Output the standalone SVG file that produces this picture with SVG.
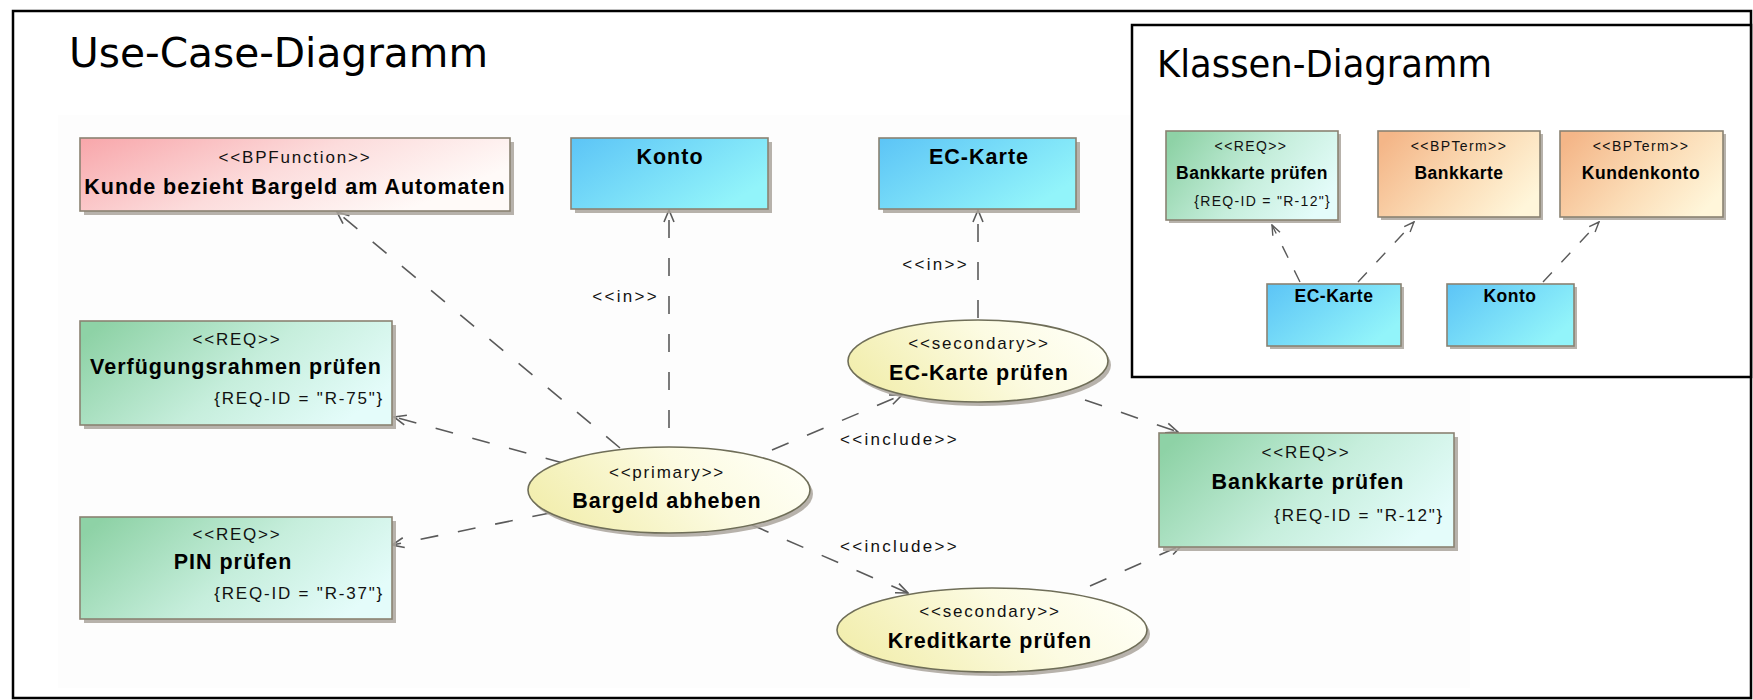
<svg xmlns="http://www.w3.org/2000/svg" width="1753" height="700" viewBox="0 0 1753 700">
  <style>
    .frame { fill: #ffffff; stroke: #000000; stroke-width: 2.5; }
    .title { font-family: "DejaVu Sans", "Verdana", sans-serif; fill: #000000; }
    .box { stroke: #8a8272; stroke-width: 1.6; }
    .oval { stroke: #6f6e58; stroke-width: 1.6; }
    .shadow { fill: #aaa49c; opacity: 0.85; }
    .st { font-family: "Liberation Sans", Arial, sans-serif; font-size: 17px; letter-spacing: 1.8px; fill: #111111; text-anchor: middle; }
    .nm { font-family: "Liberation Sans", Arial, sans-serif; font-size: 21.5px; font-weight: bold; letter-spacing: 1px; fill: #000000; text-anchor: middle; }
    .id { font-family: "Liberation Sans", Arial, sans-serif; font-size: 17px; letter-spacing: 1.8px; fill: #111111; text-anchor: end; }
    .lbl { font-family: "Liberation Sans", Arial, sans-serif; font-size: 17px; letter-spacing: 2.3px; fill: #111111; }
    .kst { font-family: "Liberation Sans", Arial, sans-serif; font-size: 14px; letter-spacing: 1.4px; fill: #111111; text-anchor: middle; }
    .knm { font-family: "Liberation Sans", Arial, sans-serif; font-size: 17.5px; font-weight: bold; letter-spacing: 0.5px; fill: #000000; text-anchor: middle; }
    .kid { font-family: "Liberation Sans", Arial, sans-serif; font-size: 14px; letter-spacing: 1.3px; fill: #111111; text-anchor: end; }
    .dep { fill: none; stroke: #5a5a5a; stroke-width: 1.6; stroke-dasharray: 18 20; marker-end: url(#open); }
    .kdep { fill: none; stroke: #5a5a5a; stroke-width: 1.4; stroke-dasharray: 13 14; marker-end: url(#openSmall); }
  </style>
  <defs>
    <linearGradient id="gPink" x1="0" y1="0" x2="1" y2="0.4">
      <stop offset="0" stop-color="#f8a6aa"/>
      <stop offset="0.55" stop-color="#fcdcdc"/>
      <stop offset="1" stop-color="#fffaf8"/>
    </linearGradient>
    <linearGradient id="gBlue" x1="0" y1="0" x2="1" y2="0.6">
      <stop offset="0" stop-color="#5cc4f6"/>
      <stop offset="1" stop-color="#92f4fa"/>
    </linearGradient>
    <linearGradient id="gGreen" x1="0" y1="0.2" x2="1" y2="0.6">
      <stop offset="0" stop-color="#8ed2a6"/>
      <stop offset="0.55" stop-color="#c6eedc"/>
      <stop offset="1" stop-color="#e4fcfa"/>
    </linearGradient>
    <linearGradient id="gOrange" x1="0" y1="0.2" x2="1" y2="0.7">
      <stop offset="0" stop-color="#f4b688"/>
      <stop offset="0.55" stop-color="#fbdcb6"/>
      <stop offset="1" stop-color="#fff6da"/>
    </linearGradient>
    <linearGradient id="gOval" x1="0" y1="0.6" x2="1" y2="0.3">
      <stop offset="0" stop-color="#f2eeae"/>
      <stop offset="0.6" stop-color="#fcfbe2"/>
      <stop offset="1" stop-color="#fffff6"/>
    </linearGradient>
    <marker id="open" viewBox="0 0 14 12" refX="13" refY="6" markerWidth="14" markerHeight="12" markerUnits="userSpaceOnUse" orient="auto">
      <path d="M1,1 L13,6 L1,11" fill="none" stroke="#5a5a5a" stroke-width="1.6"/>
    </marker>
    <marker id="openSmall" viewBox="0 0 12 10" refX="11" refY="5" markerWidth="12" markerHeight="10" markerUnits="userSpaceOnUse" orient="auto">
      <path d="M1,1 L11,5 L1,9" fill="none" stroke="#5a5a5a" stroke-width="1.4"/>
    </marker>
  </defs>

  <rect x="0" y="0" width="1753" height="700" fill="#ffffff"/>

  <!-- use case frame -->
  <g id="frame-usecase">
    <rect class="frame" x="13" y="11" width="1738" height="687"/>
    <rect x="58" y="115" width="1412" height="573" fill="#fdfdfd"/>
    <text class="title" x="69" y="67" font-size="40" textLength="419" lengthAdjust="spacingAndGlyphs">Use-Case-Diagramm</text>
  </g>

  <!-- class diagram frame -->
  <g id="frame-klassen">
    <rect class="frame" x="1132" y="25" width="619" height="352"/>
    <text class="title" x="1157" y="77" font-size="37" textLength="335" lengthAdjust="spacingAndGlyphs">Klassen-Diagramm</text>
  </g>

  <!-- connectors -->
  <g id="connectors">
    <path class="dep" d="M620,448 L337,212"/>
    <path class="dep" d="M669,428 L669,210"/>
    <path class="dep" d="M563,463 L394,417"/>
    <path class="dep" d="M550,513 L392,545"/>
    <path class="dep" d="M772,450 L902,395"/>
    <path class="dep" d="M752,525 L908,593"/>
    <path class="dep" d="M978,318 L978,210"/>
    <path class="dep" d="M1085,400 L1178,432"/>
    <path class="dep" d="M1090,586 L1182,545"/>
    <text class="lbl" x="659" y="302" text-anchor="end">&lt;&lt;in&gt;&gt;</text>
    <text class="lbl" x="969" y="270" text-anchor="end">&lt;&lt;in&gt;&gt;</text>
    <text class="lbl" x="840" y="445">&lt;&lt;include&gt;&gt;</text>
    <text class="lbl" x="840" y="552">&lt;&lt;include&gt;&gt;</text>
    <path class="kdep" d="M1300,282 L1272,225"/>
    <path class="kdep" d="M1358,282 L1414,222"/>
    <path class="kdep" d="M1543,282 L1599,222"/>
  </g>

  <!-- use case nodes -->
  <g id="uc-bpfunction">
    <rect class="shadow" x="84" y="142" width="430" height="73"/>
    <rect class="box" x="80" y="138" width="430" height="73" fill="url(#gPink)"/>
    <text class="st" x="295" y="163">&lt;&lt;BPFunction&gt;&gt;</text>
    <text class="nm" x="295" y="194">Kunde bezieht Bargeld am Automaten</text>
  </g>
  <g id="uc-konto">
    <rect class="shadow" x="575" y="142" width="197" height="71"/>
    <rect class="box" x="571" y="138" width="197" height="71" fill="url(#gBlue)"/>
    <text class="nm" x="670" y="164">Konto</text>
  </g>
  <g id="uc-eckarte">
    <rect class="shadow" x="883" y="142" width="197" height="71"/>
    <rect class="box" x="879" y="138" width="197" height="71" fill="url(#gBlue)"/>
    <text class="nm" x="979" y="164">EC-Karte</text>
  </g>
  <g id="uc-verfuegungsrahmen">
    <rect class="shadow" x="84" y="325" width="312" height="104"/>
    <rect class="box" x="80" y="321" width="312" height="104" fill="url(#gGreen)"/>
    <text class="st" x="237" y="345">&lt;&lt;REQ&gt;&gt;</text>
    <text class="nm" x="236" y="374">Verfügungsrahmen prüfen</text>
    <text class="id" x="384" y="404">{REQ-ID = "R-75"}</text>
  </g>
  <g id="uc-pin">
    <rect class="shadow" x="84" y="521" width="312" height="102"/>
    <rect class="box" x="80" y="517" width="312" height="102" fill="url(#gGreen)"/>
    <text class="st" x="237" y="540">&lt;&lt;REQ&gt;&gt;</text>
    <text class="nm" x="233" y="569">PIN prüfen</text>
    <text class="id" x="384" y="599">{REQ-ID = "R-37"}</text>
  </g>
  <g id="uc-bankkarte-pruefen">
    <rect class="shadow" x="1163" y="437" width="295" height="114"/>
    <rect class="box" x="1159" y="433" width="295" height="114" fill="url(#gGreen)"/>
    <text class="st" x="1306" y="458">&lt;&lt;REQ&gt;&gt;</text>
    <text class="nm" x="1308" y="489">Bankkarte prüfen</text>
    <text class="id" x="1444" y="521">{REQ-ID = "R-12"}</text>
  </g>
  <g id="uc-bargeld-abheben">
    <ellipse class="shadow" cx="672" cy="494" rx="141" ry="43"/>
    <ellipse class="oval" cx="669" cy="490" rx="141" ry="43" fill="url(#gOval)"/>
    <text class="st" x="667" y="478">&lt;&lt;primary&gt;&gt;</text>
    <text class="nm" x="667" y="508">Bargeld abheben</text>
  </g>
  <g id="uc-eckarte-pruefen">
    <ellipse class="shadow" cx="981" cy="365" rx="130" ry="41"/>
    <ellipse class="oval" cx="978" cy="361" rx="130" ry="41" fill="url(#gOval)"/>
    <text class="st" x="979" y="349">&lt;&lt;secondary&gt;&gt;</text>
    <text class="nm" x="979" y="380">EC-Karte prüfen</text>
  </g>
  <g id="uc-kreditkarte-pruefen">
    <ellipse class="shadow" cx="995" cy="634" rx="155" ry="42"/>
    <ellipse class="oval" cx="992" cy="630" rx="155" ry="42" fill="url(#gOval)"/>
    <text class="st" x="990" y="617">&lt;&lt;secondary&gt;&gt;</text>
    <text class="nm" x="990" y="648">Kreditkarte prüfen</text>
  </g>

  <!-- class diagram nodes -->
  <g id="k-bankkarte-pruefen">
    <rect class="shadow" x="1169" y="134" width="172" height="89"/>
    <rect class="box" x="1166" y="131" width="172" height="89" fill="url(#gGreen)"/>
    <text class="kst" x="1251" y="151">&lt;&lt;REQ&gt;&gt;</text>
    <text class="knm" x="1252" y="179">Bankkarte prüfen</text>
    <text class="kid" x="1331" y="206">{REQ-ID = "R-12"}</text>
  </g>
  <g id="k-bankkarte">
    <rect class="shadow" x="1381" y="134" width="162" height="86"/>
    <rect class="box" x="1378" y="131" width="162" height="86" fill="url(#gOrange)"/>
    <text class="kst" x="1459" y="151">&lt;&lt;BPTerm&gt;&gt;</text>
    <text class="knm" x="1459" y="179">Bankkarte</text>
  </g>
  <g id="k-kundenkonto">
    <rect class="shadow" x="1563" y="134" width="163" height="86"/>
    <rect class="box" x="1560" y="131" width="163" height="86" fill="url(#gOrange)"/>
    <text class="kst" x="1641" y="151">&lt;&lt;BPTerm&gt;&gt;</text>
    <text class="knm" x="1641" y="179">Kundenkonto</text>
  </g>
  <g id="k-eckarte">
    <rect class="shadow" x="1270" y="287" width="134" height="62"/>
    <rect class="box" x="1267" y="284" width="134" height="62" fill="url(#gBlue)"/>
    <text class="knm" x="1334" y="302">EC-Karte</text>
  </g>
  <g id="k-konto">
    <rect class="shadow" x="1450" y="287" width="127" height="62"/>
    <rect class="box" x="1447" y="284" width="127" height="62" fill="url(#gBlue)"/>
    <text class="knm" x="1510" y="302">Konto</text>
  </g>
</svg>
